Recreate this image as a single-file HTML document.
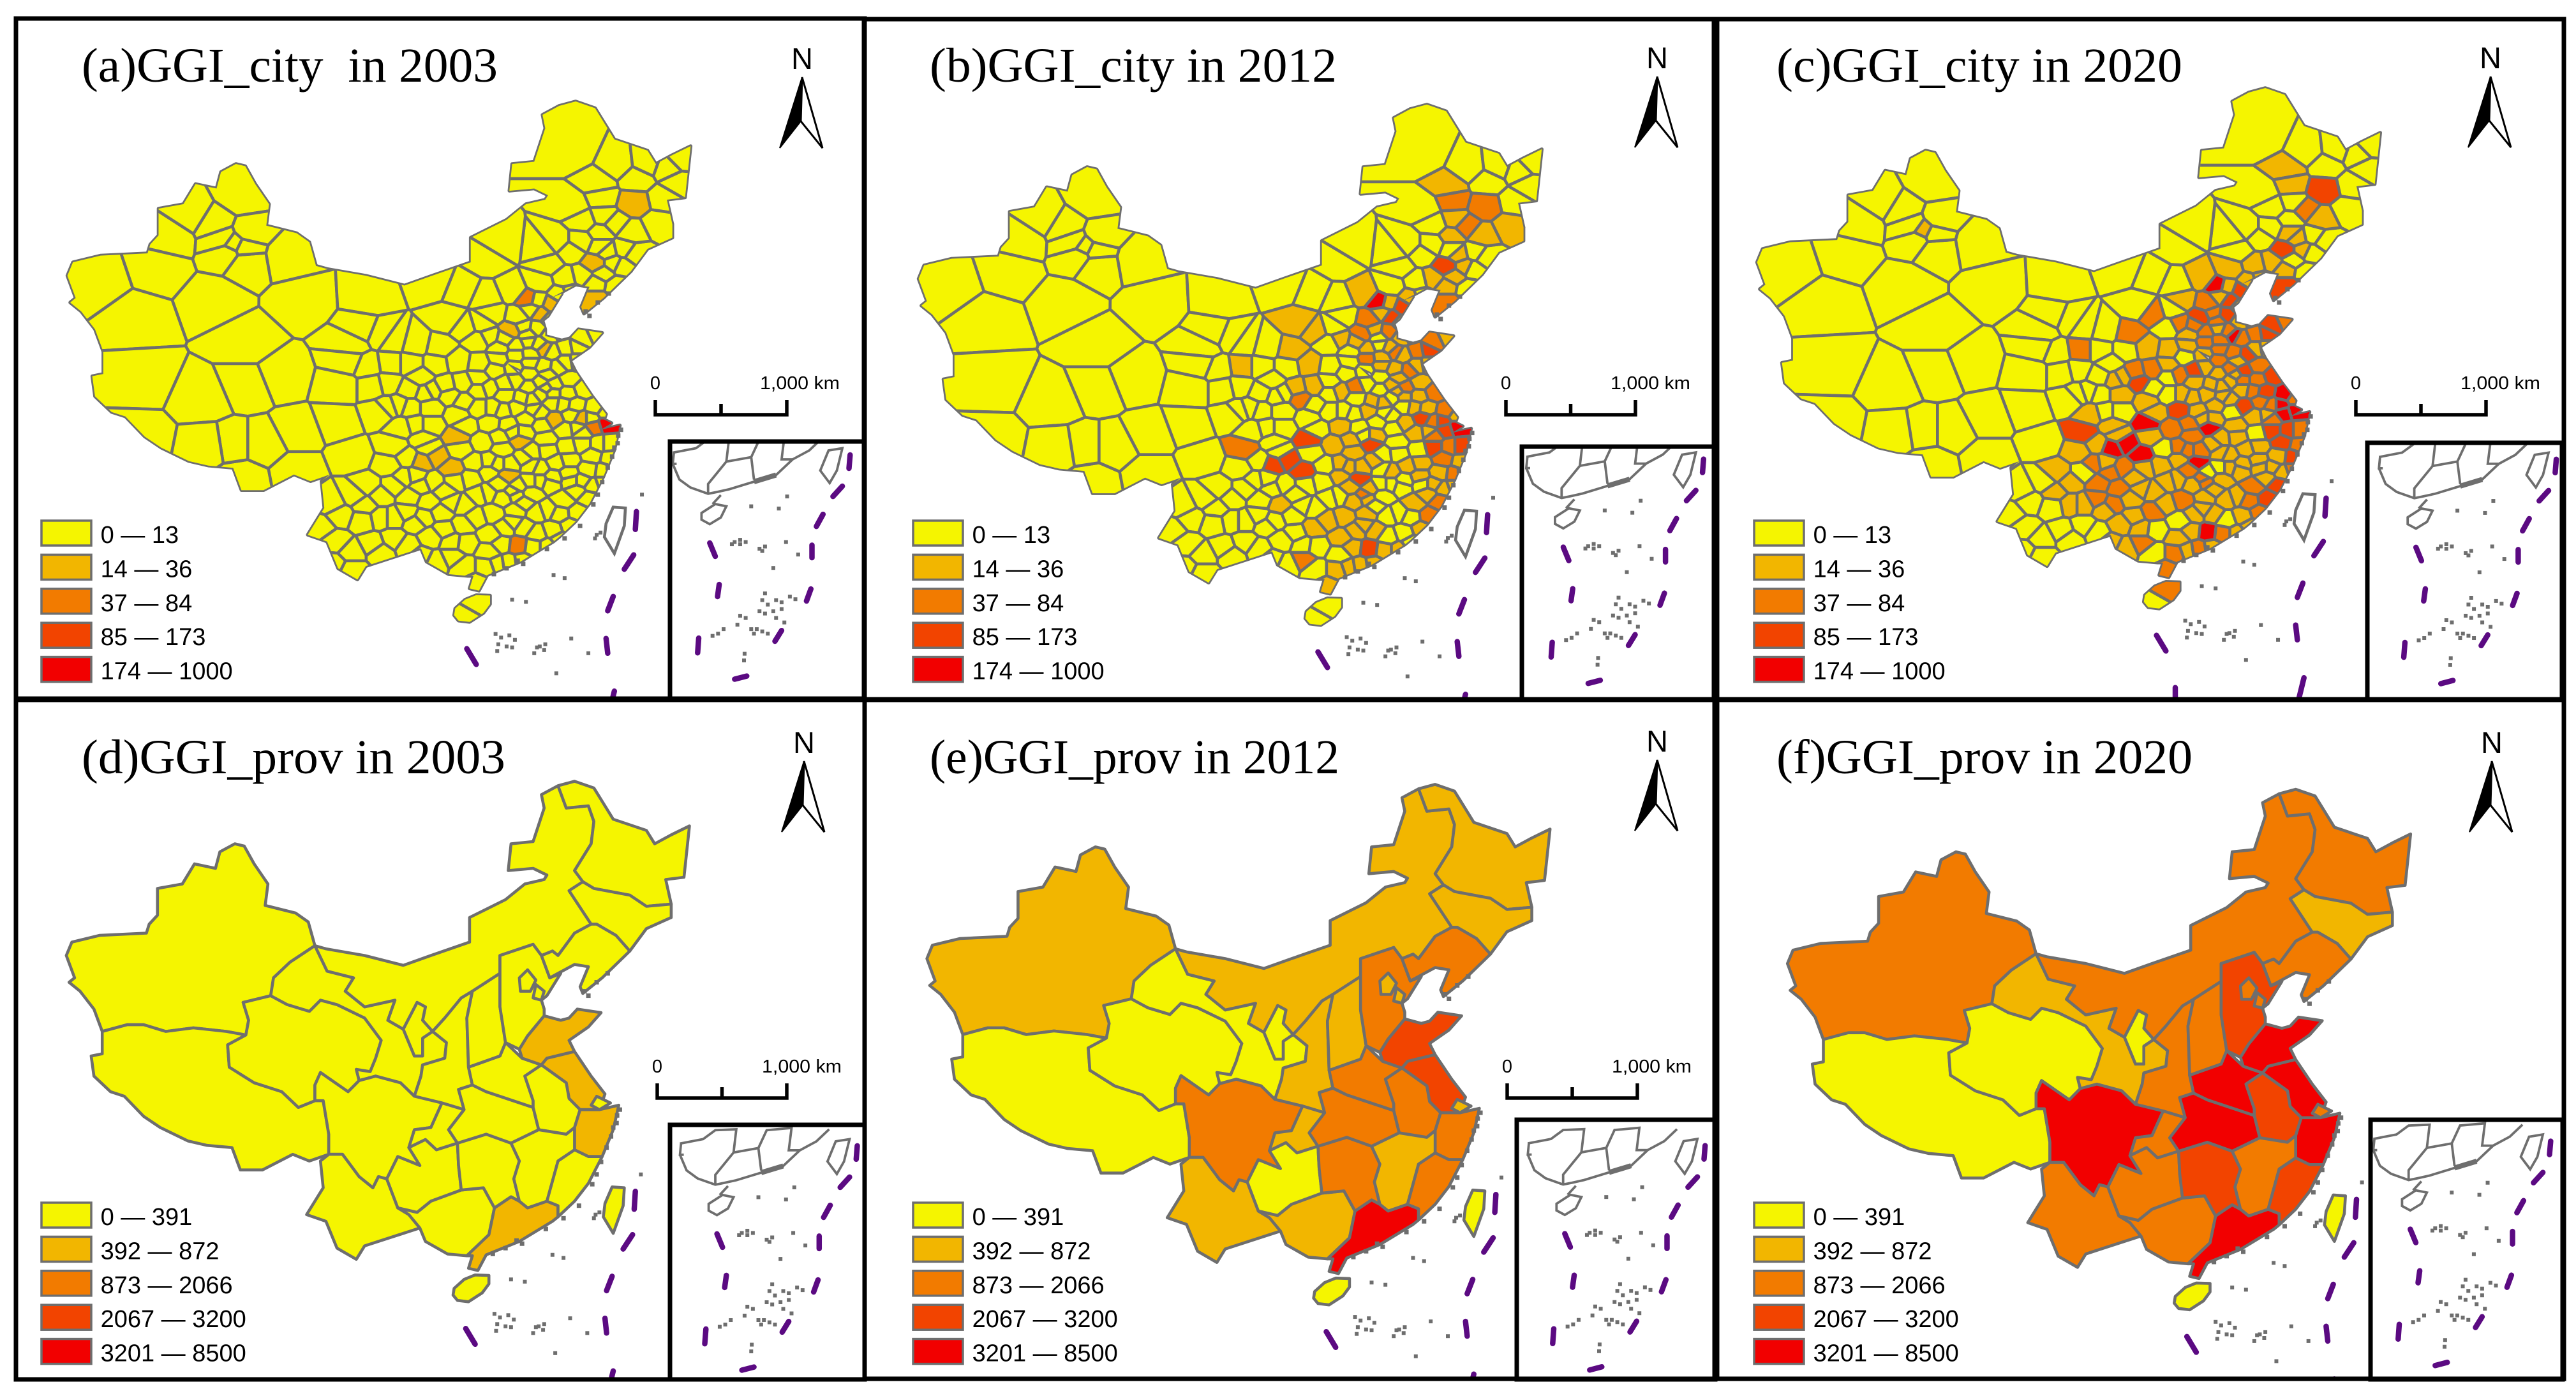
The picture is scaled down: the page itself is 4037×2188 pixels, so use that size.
<!DOCTYPE html>
<html lang="en">
<head>
<meta charset="utf-8">
<title>GGI city and province maps</title>
<style>
html,body{margin:0;padding:0;background:#fff;}
svg{display:block;}
.title{font-family:"Liberation Serif",serif;font-size:76px;fill:#000;white-space:pre;}
.sans{font-family:"Liberation Sans",sans-serif;fill:#000;}
</style>
</head>
<body>
<svg id="figure" xmlns="http://www.w3.org/2000/svg" width="4037" height="2188" viewBox="0 0 4037 2188">
<rect x="0" y="0" width="4037" height="2188" fill="#fff"/>
<g id="panel-a"><text class="title" x="128" y="128" textLength="652" lengthAdjust="spacingAndGlyphs">(a)GGI_city  in 2003</text></g>
<g id="panel-b"><text class="title" x="1457" y="128" textLength="638" lengthAdjust="spacingAndGlyphs">(b)GGI_city in 2012</text></g>
<g id="panel-c"><text class="title" x="2784" y="128" textLength="636" lengthAdjust="spacingAndGlyphs">(c)GGI_city in 2020</text></g>
<g id="panel-d"><text class="title" x="128" y="1212" textLength="664" lengthAdjust="spacingAndGlyphs">(d)GGI_prov in 2003</text></g>
<g id="panel-e"><text class="title" x="1457" y="1212" textLength="642" lengthAdjust="spacingAndGlyphs">(e)GGI_prov in 2012</text></g>
<g id="panel-f"><text class="title" x="2784" y="1212" textLength="652" lengthAdjust="spacingAndGlyphs">(f)GGI_prov in 2020</text></g>
</svg>
<script>
// ---------- legend data ----------
const classColors = ['#f5f500','#f2b600','#f27b00','#f24400','#f20000'];
const cityLegendLabels = ['0 — 13','14 — 36','37 — 84','85 — 173','174 — 1000'];
const provLegendLabels = ['0 — 391','392 — 872','873 — 2066','2067 — 3200','3201 — 8500'];
const provBreaks = [391,872,2066,3200,8500];

// ---------- province values (estimated from the class shown) ----------
const provinceNames = ['xinjiang','tibet','qinghai','gansu','neimenggu','ningxia','shaanxi','sichuan','chongqing','yunnan','guizhou','guangxi','guangdong','hainan','hunan','hubei','henan','shanxi','hebei','beijing','tianjin','shandong','jiangsu','anhui','zhejiang','shanghai','jiangxi','fujian','heilongjiang','jilin','liaoning','taiwan'];
const provValues2003 = [100,50,50,100,150,50,150,300,150,150,100,150,700,50,250,300,300,200,300,300,200,600,700,200,600,380,150,300,200,150,300,100];
const provValues2012 = [500,200,200,300,600,200,700,1200,600,600,300,700,4000,200,1300,1500,1500,800,1500,800,700,2500,2800,1300,1800,800,800,1300,700,600,1200,200];
const provValues2020 = [1200,300,300,700,1500,300,1500,4000,1500,1500,1200,1300,7500,300,3000,3600,4000,1500,2500,1500,1200,5000,6000,3000,4500,1500,2000,2800,1200,700,1300,300];

// ---------- province outlines (map coordinates) ----------
const provinceShapes = {
 xinjiang:[[590,578],[578,525],[555,505],[500,488],[505,440],[480,395],[462,355],[445,350],[418,368],[410,405],[372,395],[350,440],[305,450],[305,510],[290,530],[285,550],[200,555],[150,570],[140,600],[155,650],[145,660],[165,680],[190,720],[205,770],[250,755],[280,755],[320,770],[370,762],[430,770],[465,778],[470,745],[460,705],[510,690],[515,650],[545,615]],
 tibet:[[205,770],[250,755],[280,755],[320,770],[370,762],[430,770],[465,778],[432,800],[435,850],[480,885],[530,905],[560,940],[590,925],[605,925],[615,1000],[615,1045],[580,1060],[550,1045],[495,1080],[455,1080],[440,1030],[395,1025],[360,1015],[310,985],[280,960],[245,915],[220,905],[190,870],[185,825],[205,820]],
 qinghai:[[460,705],[510,690],[540,710],[580,725],[600,700],[630,710],[680,740],[710,790],[700,830],[690,860],[665,855],[670,880],[650,905],[600,862],[590,890],[590,925],[560,940],[530,905],[480,885],[435,850],[432,800],[465,778],[470,745]],
 gansu:[[510,690],[515,650],[545,615],[590,578],[612,635],[660,650],[645,680],[680,715],[735,700],[722,745],[750,765],[770,825],[785,825],[785,785],[803,770],[828,795],[825,830],[785,845],[782,870],[770,915],[745,885],[700,870],[670,880],[665,855],[690,860],[700,830],[710,790],[680,740],[630,710],[600,700],[580,725],[540,710]],
 neimenggu:[[590,578],[610,585],[680,600],[750,622],[800,600],[870,570],[870,515],[935,475],[970,440],[1005,430],[1010,420],[985,405],[940,410],[945,350],[985,345],[1005,270],[1000,240],[1030,220],[1045,270],[1085,265],[1095,300],[1090,350],[1060,410],[1075,435],[1050,455],[1090,530],[1060,550],[1030,600],[1020,590],[1000,600],[985,575],[925,600],[925,640],[875,680],[855,695],[825,740],[803,770],[785,745],[790,715],[775,705],[750,765],[722,745],[735,700],[680,715],[645,680],[660,650],[612,635]],
 ningxia:[[775,705],[790,715],[785,745],[803,770],[785,785],[785,825],[770,825],[750,765]],
 shaanxi:[[855,695],[875,680],[865,740],[868,850],[875,890],[850,900],[860,945],[820,930],[770,915],[782,870],[785,845],[825,830],[828,795],[803,770],[825,740]],
 sichuan:[[600,862],[650,905],[670,880],[700,870],[745,885],[770,915],[820,930],[800,985],[770,990],[760,1030],[780,1070],[740,1050],[720,1100],[705,1095],[695,1120],[670,1095],[640,1045],[615,1045],[615,1000],[605,925],[590,925],[590,890]],
 chongqing:[[820,930],[860,945],[832,990],[848,1020],[810,1035],[790,1012],[760,1030],[770,990],[800,985]],
 yunnan:[[615,1045],[640,1045],[670,1095],[695,1120],[705,1095],[720,1100],[740,1165],[760,1180],[780,1210],[730,1230],[680,1250],[665,1280],[630,1255],[610,1195],[575,1180],[605,1120],[600,1060]],
 guizhou:[[720,1100],[740,1050],[780,1070],[760,1030],[790,1012],[810,1035],[848,1020],[850,1070],[855,1125],[800,1150],[775,1175],[740,1165]],
 guangxi:[[740,1165],[775,1175],[800,1150],[855,1125],[895,1120],[915,1165],[905,1225],[865,1272],[830,1268],[790,1240],[780,1210],[760,1180]],
 guangdong:[[915,1165],[945,1140],[960,1150],[975,1165],[1010,1150],[1030,1160],[1030,1185],[1020,1195],[960,1240],[900,1270],[885,1305],[868,1300],[875,1272],[865,1272],[905,1225]],
 hainan:[[842,1345],[860,1325],[880,1315],[905,1316],[905,1335],[893,1355],[868,1375],[848,1372],[840,1360]],
 hunan:[[848,1020],[900,1000],[945,1020],[960,1060],[950,1100],[960,1150],[945,1140],[915,1165],[895,1120],[855,1125],[850,1070]],
 hubei:[[860,945],[850,900],[875,890],[900,905],[985,940],[995,990],[945,1020],[900,1000],[848,1020],[832,990]],
 henan:[[868,850],[925,825],[935,795],[965,830],[1000,845],[970,870],[985,925],[985,940],[900,905],[875,890]],
 shanxi:[[875,680],[925,640],[925,715],[935,795],[925,825],[868,850],[865,740]],
 hebei:[[925,600],[985,575],[1000,600],[1015,650],[1035,640],[1010,690],[1000,700],[1005,720],[1005,735],[975,780],[960,810],[935,795],[925,715],[925,640]],
 beijing:[[960,650],[975,632],[990,655],[980,680],[962,680]],
 tianjin:[[990,665],[1005,680],[1000,700],[985,695]],
 shandong:[[965,830],[960,810],[975,780],[1005,735],[1035,745],[1050,740],[1065,720],[1108,728],[1085,760],[1050,790],[1060,815],[1010,830],[1000,845]],
 jiangsu:[[1000,845],[1010,830],[1060,815],[1090,870],[1115,910],[1105,945],[1070,945],[1050,920],[1045,885]],
 anhui:[[970,870],[1000,845],[1045,885],[1050,920],[1070,945],[1060,985],[1045,1000],[995,990],[985,940],[985,925]],
 zhejiang:[[1070,945],[1105,945],[1140,935],[1130,990],[1110,1050],[1085,1050],[1060,1035],[1060,985]],
 shanghai:[[1100,915],[1125,930],[1105,945],[1090,935]],
 jiangxi:[[945,1020],[995,990],[1045,1000],[1060,985],[1060,1035],[1030,1060],[1010,1150],[975,1165],[960,1150],[950,1100],[960,1060]],
 fujian:[[1030,1060],[1060,1035],[1085,1050],[1110,1050],[1085,1110],[1060,1150],[1030,1185],[1030,1160],[1010,1150]],
 heilongjiang:[[1030,220],[1060,210],[1095,225],[1130,295],[1190,320],[1205,350],[1235,330],[1268,310],[1258,425],[1225,430],[1235,485],[1190,490],[1160,465],[1095,450],[1075,435],[1060,410],[1090,350],[1095,300],[1085,265],[1045,270]],
 jilin:[[1050,455],[1075,435],[1095,450],[1160,465],[1190,490],[1235,485],[1235,515],[1190,540],[1160,590],[1135,555],[1100,530],[1090,530]],
 liaoning:[[1090,530],[1100,530],[1135,555],[1160,590],[1110,650],[1075,685],[1070,670],[1085,625],[1060,620],[1015,650],[1000,600],[1020,590],[1030,600],[1060,550]],
 taiwan:[[1128,1118],[1150,1120],[1148,1160],[1130,1222],[1112,1185],[1115,1155]]
};

const citySeedsDetail = [
[80,100],[240,80],[300,260],[550,250],[790,190],[895,220],[1000,90],[1200,50],[1310,60],[850,340],
[990,250],[1010,315],[975,355],[1090,220],[1190,190],[1290,170],[1150,255],[1235,275],[1190,315],[1110,330],
[1180,375],[1085,385],[1145,400],[1180,260],[1265,240],[1310,230],[1350,160],[1400,110],[1445,60],[1470,110],
[1430,150],[1500,120],[1400,190],[1480,200],[1400,255],[1510,50],[1420,40],[1550,70],[905,370],[815,455],
[960,425],[1000,410],[1040,455],[965,520],[1035,500],[880,510],[1020,545],[960,580],[785,630],[835,610],
[900,600],[850,650],[905,675],[960,630],[1000,620],[1060,602],[1150,560],[1100,590],[1095,535],[1100,445],
[1100,485],[1155,480],[1150,430],[1210,460],[1230,400],[1265,390],[1290,455],[1350,420],[1410,400],[1330,450],
[1290,515],[1260,535],[1205,530],[1155,515],[1220,565],[1195,595],[1245,605],[1300,585],[1355,625],[1295,640],
[1150,615],[1125,660],[1195,645],[1240,680],[1280,685],[1325,690],[1400,700],[1350,745],[1385,745],[1440,765],
[1395,775],[1310,730],[1245,750],[1200,770],[1140,745],[1070,770],[1105,700],[1015,700],[1060,650],[1160,665],
[1335,785],[1285,790],[1215,830],[1295,860],[1350,850],[1415,850],[1390,895],[1450,850],[1455,905],[1300,915],
[1430,960],[1375,955],[1300,970],[1255,925],[1160,880],[1115,835],[1040,820],[1005,765],[975,840],[1050,870],
[1000,920],[1080,930],[1130,905],[1220,875],[1240,985],[1155,1000],[1070,980],[1110,1020],[1090,1045],[1000,965],
[945,925],[890,870],[880,820],[800,900],[745,920],[860,950],[720,770],[780,770],[750,830],[670,780],
[770,865],[640,860],[620,935],[680,985],[690,905],[790,1005],[640,1020],[540,1020],[870,1000],[930,990],
[700,1065],[770,1085],[860,1090],[965,1055],[1055,1070],[1015,1135],[1100,1060],[1160,1050],[1230,1010],[1310,1000],
[1390,1020],[1280,1080],[1375,1070],[1180,1130],[1265,1135],[1335,1130],[1305,1185],[1090,1170],[1180,1215],[1240,1200],
[950,1150],[1005,1220],[900,1180],[830,1200],[1045,1260],[1110,1265],[1165,1270],[1220,1270],[860,1310],[910,1255],
[800,1330],[905,1350],[990,1350],[1030,1340],[1075,1335],[1125,1330],[950,1420],[945,1500],[905,1550],[780,1230],
[690,1265],[560,1260],[590,1150],[640,1150],[720,1170],[520,1160],[440,1140],[405,1090],[360,1190],[420,1250],
[480,1290],[590,1290],[480,1365],[410,1340],[490,1060],[80,430],[480,440],[520,380],[470,510],[590,400],
[640,425],[630,520],[540,530],[560,610],[620,600],[720,440],[700,520],[740,575],[800,520],[700,625],
[220,570],[80,610],[440,610],[590,720],[430,760],[280,800],[490,900],[60,990],[280,960],[700,700],
[780,700],[880,730],[910,775],[660,690],[145,850],[30,850]
];
// ---------- prefecture seats: overview group (north and far west) ----------
const citySeedsOverview = [
[400,410],[310,450],[270,500],[350,470],[415,490],[385,517],[250,570],[350,640],[140,600],[210,680],
[220,820],[330,860],[215,950],[340,970],[1000,310],[1080,340],[1045,380],[1052,412],[1115,370],[1135,335],
[1170,345],[1190,380],[1195,325],[1165,415],[1110,425],[1155,470],[1000,430],[1020,465],[1055,455],[1075,470],
[1105,490],[1050,490],[970,510],[1015,510],[955,560],[870,520]
];
// ---------- additional small prefectures (same grid as the detail group) ----------
const citySeedsExtra = [
[1060,1190],[1130,1190],[1130,1090],[1220,1120],[1330,1040],[1270,1240],[1190,1000],[1190,950],[1350,1000],[1430,1010],
[900,1100],[990,1050],[1040,1010],[1030,930],[1160,940],[1190,720],[1050,710],[960,700],[1240,640],[1350,800],
[1440,720],[640,1240],[750,1150],[820,1130],[860,1250],[740,1310],[690,1130],[1000,1290],[1100,1120],[590,1060],
[530,1100],[830,1040],[720,980],[740,1020],[620,700],[760,640],[1060,420],[1130,370],[1230,340],[1330,510],
[1215,620],[1170,710],[-10,10],[74,46],[11,64],[1130,800],[1090,800],[1185,440],[1235,470],[1160,300]
];
// ---------- GGI class of every prefecture (detail rows, overview rows, extra rows) ----------
const cityClass2003 = [
0,0,0,0,0,0,0,0,0,0,
0,0,0,0,0,0,2,1,1,0,
0,1,0,0,0,0,0,1,0,0,
0,0,0,0,1,0,0,0,0,0,
0,0,0,0,0,0,0,0,0,0,
0,0,0,0,0,0,0,0,0,0,
0,0,0,1,0,0,0,0,0,0,
0,0,0,0,0,0,0,0,0,0,
0,0,0,0,0,0,0,1,0,4,
2,0,1,0,0,0,0,0,0,0,
0,0,0,0,0,0,0,0,0,0,
0,0,0,0,0,1,0,0,0,0,
0,0,0,0,0,0,1,0,0,0,
0,0,1,1,1,1,0,0,0,0,
0,0,0,0,0,0,0,0,0,0,
0,0,0,0,0,0,0,0,0,0,
0,0,0,0,0,0,0,0,0,0,
0,0,0,0,0,2,0,0,0,0,
0,0,0,0,0,0,0,0,0,0,
0,0,0,0,0,0,0,0,0,0,
0,0,0,0,0,0,0,0,0,0,
0,0,0,0,0,0,0,0,0,0,
0,0,0,0,0,0,0,0,0,0,
0,0,0,0,0,0,
0,0,0,0,0,0,0,0,0,0,
0,0,0,0,0,0,0,0,0,0,
0,0,0,0,1,0,0,0,0,0,
0,0,0,0,0,0,
0,0,0,0,0,0,0,0,0,0,
0,0,0,0,0,0,0,0,0,0,
0,0,0,0,0,0,0,0,0,0,
0,0,0,0,0,0,0,0,0,0,
0,0,0,0,0,0,0,0,0,0
];
const cityClass2012 = [
0,0,0,0,0,0,0,0,0,1,
0,0,0,1,0,0,4,3,3,2,
2,2,0,1,1,0,1,3,1,1,
1,0,1,0,2,0,0,0,1,1,
0,1,0,0,0,1,0,0,0,1,
1,2,0,0,1,2,0,0,0,1,
2,1,0,2,1,1,2,2,1,3,
1,2,1,1,1,1,2,1,2,1,
0,1,0,0,1,1,2,2,3,4,
3,3,1,0,0,0,1,0,0,1,
1,1,0,0,3,2,2,3,1,1,
2,1,1,1,0,3,1,1,1,1,
1,1,1,0,0,0,3,1,2,1,
0,0,3,3,3,3,0,0,0,0,
0,2,0,0,0,0,0,0,0,0,
0,1,0,0,1,1,1,0,0,0,
1,1,2,0,0,2,1,1,0,0,
1,1,1,0,1,3,1,1,2,0,
0,0,1,1,1,1,1,0,0,0,
0,0,0,0,0,0,0,0,0,0,
0,0,0,0,0,0,0,0,0,0,
0,1,0,0,0,0,0,0,0,0,
0,0,0,0,0,0,0,0,0,0,
0,0,0,0,0,0,
0,0,0,0,0,0,0,0,0,0,
0,0,0,0,0,0,1,2,0,0,
0,0,0,0,2,1,0,0,1,2,
1,1,0,0,0,0,
1,1,0,0,1,0,0,1,1,1,
0,0,1,1,0,0,0,0,1,2,
1,0,0,0,0,0,0,0,1,0,
0,0,0,0,0,0,1,1,1,1,
1,0,0,0,0,1,0,1,1,1
];
const cityClass2020 = [
0,0,0,0,0,0,0,0,0,0,
0,1,0,1,1,1,4,3,3,2,
3,3,2,1,1,1,1,3,1,1,
0,0,1,0,3,0,1,0,2,2,
0,2,1,1,1,1,0,1,1,2,
2,3,0,0,2,3,2,1,1,2,
2,2,1,4,1,1,2,3,2,3,
1,3,2,2,1,2,3,2,3,2,
1,1,1,1,2,3,4,2,4,4,
4,2,3,0,1,1,1,1,1,1,
1,1,1,0,3,3,3,2,2,1,
3,1,1,1,1,4,2,3,2,2,
2,2,1,1,1,0,4,0,2,1,
0,1,4,4,4,4,0,0,1,1,
1,3,1,2,1,2,0,1,1,1,
2,2,1,1,1,2,2,1,1,1,
1,2,3,1,2,3,2,1,0,1,
1,0,2,1,1,4,2,1,2,0,
1,0,2,1,2,1,2,2,0,1,
0,0,1,1,1,0,0,0,0,0,
0,0,0,0,0,0,0,0,0,0,
0,2,0,0,0,0,0,0,0,0,
0,0,0,0,0,0,0,0,0,0,
1,1,1,0,0,0,
0,0,0,0,0,1,0,0,0,0,
0,0,0,0,0,0,1,1,0,0,
0,0,0,0,3,0,0,0,0,2,
1,0,0,0,0,0,
1,1,1,1,1,1,1,1,1,2,
1,1,2,2,1,1,1,0,2,2,
2,0,2,1,1,1,2,1,1,1,
1,1,1,2,0,1,2,2,1,1,
1,1,0,0,0,1,1,2,2,1
];

// ---------- sea features (map coordinates) ----------
const seaDashes = [[[1170,1128],[1168,1168]],[[1165,1225],[1148,1257]],[[1128,1318],[1118,1350]],[[1115,1412],[1118,1445]],[[863,1435],[880,1470]],[[1130,1530],[1120,1580]],[[897,1552],[897,1580]]];
const seaDots = [[1020,1270],[1040,1277],[945,1325],[970,1330],[915,1402],[925,1410],[940,1405],[950,1415],[920,1425],[935,1430],[945,1432],[918,1440],[985,1445],[995,1430],[1005,1425],[1003,1438],[990,1432],[1052,1412],[1083,1445],[1025,1490],[1180,1090],[1098,1180],[1095,1188],[1105,1175]];
const coastIslands = [[1142,945],[1137,958],[1136,975],[1130,985],[1126,1005],[1118,1030],[1108,1062],[1100,1090],[1092,1112],[1068,1160],[1040,1188],[1008,1212],[965,1245],[955,1238],[935,1255],[912,1268],[1085,690],[1078,680],[1100,660],[1120,640]];

// ---------- inset content (inset coordinates) ----------
const insetLines = [
 [[1198,1015],[1210,1050],[1230,1068],[1262,1082],[1278,1078],[1300,1072],[1345,1055],[1385,1040],[1415,1005],[1445,985],[1468,958]],
 [[1198,990],[1240,980],[1262,960],[1300,958],[1295,1010],[1262,1060],[1262,1082]],
 [[1345,1050],[1340,1000],[1355,960],[1400,955],[1395,1005],[1415,1005]],
 [[1295,1010],[1340,1000]],
 [[1205,1015],[1198,1015],[1200,990]],
 [[1270,1105],[1285,1085]]
];
const insetIslands = [
 [[1250,1125],[1275,1105],[1295,1110],[1285,1135],[1265,1150],[1250,1140]],
 [[1480,985],[1505,980],[1495,1030],[1482,1058],[1465,1030]]
];
const insetDashes = [[[1519,995],[1517,1025]],[[1505,1065],[1488,1088]],[[1470,1128],[1458,1155]],[[1450,1197],[1450,1225]],[[1448,1295],[1440,1322]],[[1395,1388],[1383,1412]],[[1332,1490],[1310,1497]],[[1245,1405],[1243,1438]],[[1282,1285],[1279,1312]],[[1265,1192],[1275,1222]]];
const insetDots = [[1320,1185],[1310,1190],[1330,1190],[1305,1195],[1320,1195],[1360,1210],[1365,1200],[1355,1205],[1425,1218],[1403,1190],[1380,1248],[1405,1088],[1390,1115],[1340,1110],[1365,1305],[1360,1320],[1370,1330],[1385,1320],[1395,1325],[1410,1312],[1420,1318],[1355,1345],[1365,1350],[1380,1345],[1395,1340],[1350,1385],[1360,1390],[1370,1395],[1345,1395],[1340,1385],[1320,1355],[1330,1360],[1315,1375],[1290,1385],[1280,1395],[1270,1400],[1328,1440],[1327,1455],[1385,1360],[1400,1370]];

// ---------- panel layout ----------
const panels = [
 {id:'a',kind:'city',ox:0,oy:0,dx:-18,dy:17,frame:[25,29,1330,1066],inset:[1050,692,305,403],shift:[0,-18],tip:[1257,121],legend:[65,816],bar:[1027,1233,627],classes:cityClass2003},
 {id:'b',kind:'city',ox:1340,oy:0,dx:-25,dy:24,frame:[1354,30,1337,1066],inset:[2385,700,305,396],shift:[3,-20],tip:[2597,120],legend:[1431,816],bar:[2360,2563,627],classes:cityClass2012},
 {id:'c',kind:'city',ox:2680,oy:0,dx:-55,dy:-13,frame:[2686,30,1332,1066],inset:[3710,694,305,402],shift:[16,-11],tip:[3903,120],legend:[2749,816],bar:[3692,3896,627],classes:cityClass2020},
 {id:'d',kind:'prov',ox:0,oy:1090,dx:-20,dy:-18,frame:[25,1097,1330,1065],inset:[1050,1763,305,399],shift:[13,-1],tip:[1260,1193],legend:[65,1885],bar:[1030,1233,1698],values:provValues2003},
 {id:'e',kind:'prov',ox:1340,oy:1090,dx:-10,dy:-11,frame:[1355,1097,1336,1064],inset:[2377,1755,311,407],shift:[15,10],tip:[2597,1191],legend:[1431,1885],bar:[2362,2566,1698],values:provValues2012},
 {id:'f',kind:'prov',ox:2680,oy:1090,dx:0,dy:0,frame:[2687,1097,1331,1064],inset:[3715,1755,301,407],shift:[0,0],tip:[3905,1193],legend:[2749,1885],bar:null,values:provValues2020}
];

const SX = 1.155, SY = 1.428, GRAY = '#6e6e6e', PURPLE = '#5b0a82', LINE = 4.6;
const NS = 'http://www.w3.org/2000/svg';
function mk(tag, attrs, parent){
  const e = document.createElementNS(NS, tag);
  for (const k in attrs) e.setAttribute(k, attrs[k]);
  parent.appendChild(e);
  return e;
}
function classOf(v){
  for (let i = 0; i < provBreaks.length; i++) if (v <= provBreaks[i]) return i;
  return provBreaks.length - 1;
}
function detailToMap(p){ return [424.6 + 0.479 * p[0], 512.8 + 0.5465 * p[1]]; }
function overviewToMap(p){ return [p[0] + 55, p[1] + 13]; }
function clipHalf(poly, a, b){
  const mx = (a[0] + b[0]) / 2, my = (a[1] + b[1]) / 2, nx = b[0] - a[0], ny = b[1] - a[1];
  const side = q => (q[0] - mx) * nx + (q[1] - my) * ny;
  const out = [];
  for (let i = 0; i < poly.length; i++){
    const p = poly[i], q = poly[(i + 1) % poly.length], sp = side(p), sq = side(q);
    if (sp <= 0) out.push(p);
    if ((sp < 0 && sq > 0) || (sp > 0 && sq < 0)){
      const t = sp / (sp - sq);
      out.push([p[0] + t * (q[0] - p[0]), p[1] + t * (q[1] - p[1])]);
    }
  }
  return out;
}
const allSeeds = citySeedsDetail.map(detailToMap).concat(citySeedsOverview.map(overviewToMap)).concat(citySeedsExtra.map(detailToMap));
const cityCells = allSeeds.map((s, i) => {
  let poly = [[60,120],[1400,120],[1400,1500],[60,1500]];
  allSeeds.forEach((o, j) => { if (j !== i && poly.length) poly = clipHalf(poly, s, o); });
  return poly;
});

function makeProjection(P){
  return {
    x: v => P.ox + (v + P.dx) / SX,
    y: v => P.oy + (v + P.dy) / SY
  };
}
function pathOf(points, proj, close){
  return 'M' + points.map(p => proj.x(p[0]).toFixed(1) + ',' + proj.y(p[1]).toFixed(1)).join('L') + (close ? 'Z' : '');
}

const svg = document.getElementById('figure');
const defs = mk('defs', {}, svg);

panels.forEach(P => {
  const g = document.getElementById('panel-' + P.id);
  const proj = makeProjection(P);
  const names = provinceNames.filter(n => n !== 'taiwan');

  const panelClip = mk('clipPath', {id: 'frame-clip-' + P.id}, defs);
  mk('rect', {x: P.frame[0], y: P.frame[1], width: P.frame[2], height: P.frame[3]}, panelClip);

  const mapG = mk('g', {'clip-path': 'url(#frame-clip-' + P.id + ')'}, g);
  
  

  if (P.kind === 'city'){
    const landClip = mk('clipPath', {id: 'land-clip-' + P.id}, defs);
    names.forEach(n => { mk('path', {d: pathOf(provinceShapes[n], proj, true)}, landClip); });
    names.forEach(n => {
      const halo = mk('path', {d: pathOf(provinceShapes[n], proj, true), fill: GRAY, stroke: GRAY, 'stroke-width': 5.6, 'stroke-linejoin': 'round'}, mapG);
      
      
    });
    const cellsG = mk('g', {'clip-path': 'url(#land-clip-' + P.id + ')'}, mapG);
    
    
    cityCells.forEach((cell, i) => {
      if (cell.length < 3) return;
      const c = mk('path', {d: pathOf(cell, proj, true), fill: classColors[P.classes[i]], stroke: GRAY, 'stroke-width': LINE, 'stroke-linejoin': 'round'}, cellsG);
      
      
    });
    const tw = mk('path', {d: pathOf(provinceShapes.taiwan, proj, true), fill: '#fff', stroke: GRAY, 'stroke-width': LINE}, mapG);
    
    
  } else {
    provinceNames.forEach((n, i) => {
      const c = mk('path', {d: pathOf(provinceShapes[n], proj, true), fill: classColors[classOf(P.values[i])], stroke: GRAY, 'stroke-width': LINE, 'stroke-linejoin': 'round'}, mapG);
      
      
    });
  }
  coastIslands.forEach(d => {
    const r = mk('rect', {x: proj.x(d[0]) - 3.5, y: proj.y(d[1]) - 3.5, width: 7, height: 7, fill: GRAY}, mapG);
    
    
  });
  seaDots.forEach(d => {
    const r = mk('rect', {x: proj.x(d[0]) - 3, y: proj.y(d[1]) - 3, width: 6, height: 6, fill: GRAY}, mapG);
    
    
  });
  seaDashes.forEach(d => {
    const l = mk('path', {d: pathOf(d, proj, false), fill: 'none', stroke: PURPLE, 'stroke-width': 8.5, 'stroke-linecap': 'round'}, mapG);
    
    
  });

  // legend
  const labels = P.kind === 'city' ? cityLegendLabels : provLegendLabels;
  labels.forEach((t, i) => {
    const y = P.legend[1] + i * 53.4;
    const sw = mk('rect', {x: P.legend[0], y: y, width: 78, height: 39, fill: classColors[i], stroke: GRAY, 'stroke-width': 3.5}, g);
    
    
    const tx = mk('text', {x: P.legend[0] + 92.6, y: y + 35, 'font-size': 38, class: 'sans'}, g);
    
    
    tx.textContent = t;
  });

  // north arrow
  const tx = P.tip[0], ty = P.tip[1];
  const nLetter = mk('text', {x: tx, y: ty - 13, 'font-size': 47, 'text-anchor': 'middle', class: 'sans'}, g);
  
  
  nLetter.textContent = 'N';
  const rightHalf = mk('path', {d: `M${tx},${ty}L${tx+32},${ty+111}L${tx-2},${ty+69}Z`, fill: '#fff', stroke: '#000', 'stroke-width': 3}, g);
  
  
  const leftHalf = mk('path', {d: `M${tx},${ty}L${tx-35},${ty+111}L${tx-2},${ty+69}Z`, fill: '#000', stroke: '#000', 'stroke-width': 2}, g);
  
  

  // scale bar
  if (P.bar){
    const x0 = P.bar[0], x1 = P.bar[1], top = P.bar[2], mid = (x0 + x1) / 2;
    const bar = mk('path', {d: `M${x0},${top}V${top+23}H${x1}V${top}M${mid},${top+6}V${top+23}`, fill: 'none', stroke: '#000', 'stroke-width': 5.5}, g);
    
    
    const z = mk('text', {x: x0, y: top - 17, 'font-size': 29, 'text-anchor': 'middle', class: 'sans'}, g);
    
    
    z.textContent = '0';
    const k = mk('text', {x: x0 + 164, y: top - 17, 'font-size': 29, textLength: 125, lengthAdjust: 'spacingAndGlyphs', class: 'sans'}, g);
    
    
    k.textContent = '1,000 km';
  }

  // inset
  const I = P.inset;
  const insetClip = mk('clipPath', {id: 'inset-clip-' + P.id}, defs);
  mk('rect', {x: I[0], y: I[1], width: I[2], height: I[3]}, insetClip);
  const inBg = mk('rect', {x: I[0], y: I[1], width: I[2], height: I[3], fill: '#fff'}, g);
  
  
  const inG = mk('g', {'clip-path': 'url(#inset-clip-' + P.id + ')'}, g);
  
  
  const ip = {
    x: v => I[0] + (v - 1193 + P.shift[0]) / SX,
    y: v => I[1] + (v - 947 + P.shift[1]) / SY
  };
  insetLines.forEach(l => {
    const e = mk('path', {d: pathOf(l, ip, false), fill: 'none', stroke: GRAY, 'stroke-width': 3.8}, inG);
    
    
  });
  const thick = mk('path', {d: pathOf([[1345,1055],[1385,1040]], ip, false), fill: 'none', stroke: GRAY, 'stroke-width': 8}, inG);
  
  
  insetIslands.forEach(l => {
    const e = mk('path', {d: pathOf(l, ip, true), fill: '#fff', stroke: GRAY, 'stroke-width': 3.8}, inG);
    
    
  });
  insetDots.forEach(d => {
    const e = mk('rect', {x: ip.x(d[0]) - 3, y: ip.y(d[1]) - 3, width: 6, height: 6, fill: GRAY}, inG);
    
    
  });
  insetDashes.forEach(d => {
    const e = mk('path', {d: pathOf(d, ip, false), fill: 'none', stroke: PURPLE, 'stroke-width': 8.5, 'stroke-linecap': 'round'}, inG);
    
    
  });
  const inFrame = mk('rect', {x: I[0], y: I[1], width: I[2], height: I[3], fill: 'none', stroke: '#000', 'stroke-width': 7}, g);
  
  

  const fr = mk('rect', {x: P.frame[0], y: P.frame[1], width: P.frame[2], height: P.frame[3], fill: 'none', stroke: '#000', 'stroke-width': 7}, g);
  
  
});
</script>
</body>
</html>
